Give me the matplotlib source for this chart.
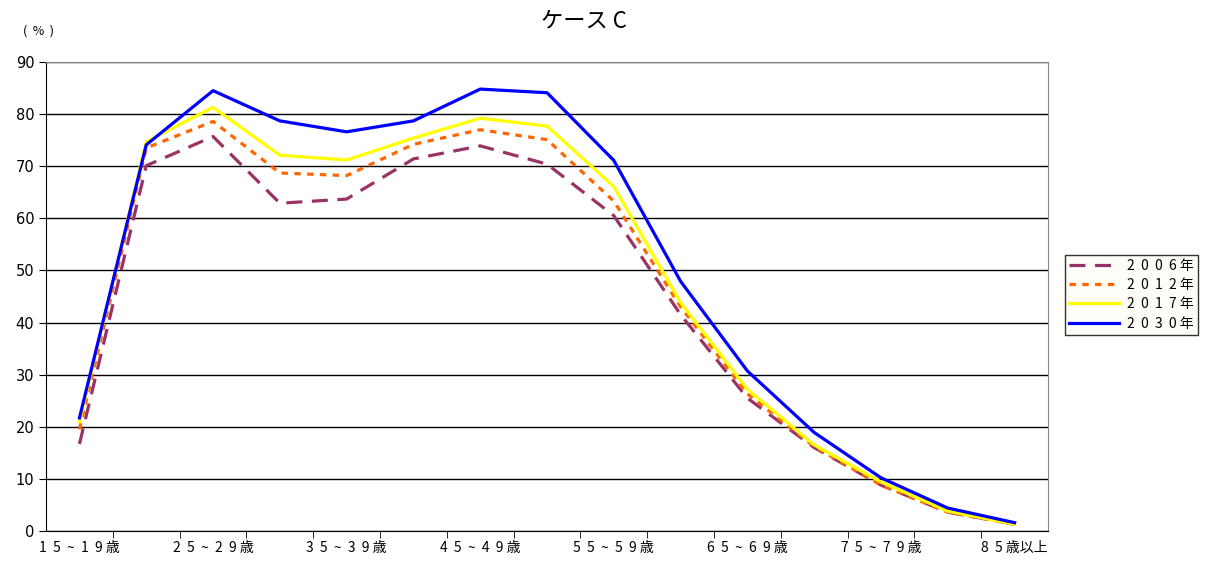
import matplotlib
matplotlib.use("Agg")
import matplotlib.pyplot as plt

plt.rcParams["font.family"] = ["Noto Sans CJK JP", "DejaVu Sans"]

# 年齢階級
ages = ["15～19歳", "20～24歳", "25～29歳", "30～34歳", "35～39歳", "40～44歳",
        "45～49歳", "50～54歳", "55～59歳", "60～64歳", "65～69歳", "70～74歳",
        "75～79歳", "80～84歳", "85歳以上"]
tick_labels = ["1  5  ~  1  9 歳", "2  5  ~  2  9 歳", "3  5  ~  3  9 歳", "4  5  ~  4  9 歳",
               "5  5  ~  5  9 歳", "6  5  ~  6  9 歳", "7  5  ~  7  9 歳", "8  5 歳以上"]
series_labels = ["2  0  0  6 年", "2  0  1  2 年", "2  0  1  7 年", "2  0  3  0 年"]

y2006 = [16.7, 70.1, 75.7, 62.9, 63.7, 71.4, 73.9, 70.4, 60.5, 41.5, 25.5, 16.0, 8.8, 3.6, 1.3]
y2012 = [19.5, 73.5, 78.6, 68.7, 68.2, 74.2, 77.0, 75.1, 63.3, 43.0, 26.3, 16.2, 8.8, 3.6, 1.3]
y2017 = [21.0, 74.7, 81.3, 72.1, 71.2, 75.4, 79.2, 77.7, 66.1, 43.8, 27.2, 16.5, 9.4, 3.8, 1.3]
y2030 = [21.7, 74.1, 84.5, 78.7, 76.6, 78.7, 84.8, 84.1, 71.1, 47.9, 30.7, 18.9, 10.2, 4.4, 1.6]

fig = plt.figure(figsize=(12.12, 5.61), dpi=100)
ax = fig.add_axes([0.038, 0.0535, 0.8267, 0.836])

x = list(range(len(ages)))
ax.plot(x, y2006, color="#993366", lw=2.3, dashes=(5, 3), label=series_labels[0])
ax.plot(x, y2012, color="#FF6600", lw=2.3, dashes=(2, 2), label=series_labels[1])
ax.plot(x, y2017, color="#FFFF00", lw=2.3, label=series_labels[2])
ax.plot(x, y2030, color="#0000FF", lw=2.3, label=series_labels[3])

ax.set_xlim(-0.5, len(ages) - 0.5)
ax.set_ylim(0, 90)
ax.set_yticks(range(0, 91, 10))
ax.yaxis.grid(True, color="black", lw=1)
ax.set_axisbelow(True)
ax.tick_params(axis="y", labelsize=10.5, length=5, direction="out")
for lab in ax.get_yticklabels():
    lab.set_family(["DejaVu Sans"])

ax.set_xticks(x[::2])
ax.set_xticklabels(tick_labels, fontsize=10)
ax.set_xticks([i + 0.5 for i in range(len(ages) - 1)], minor=True)
ax.tick_params(axis="x", which="major", length=0, pad=7)
ax.tick_params(axis="x", which="minor", length=5, direction="out")

for s in ["top", "right"]:
    ax.spines[s].set_color("#888888")
for s in ["left", "bottom"]:
    ax.spines[s].set_color("black")

fig.text(0.482, 0.962, "ケース C", fontsize=16, ha="center", va="center")
fig.text(0.032, 0.945, "(  %  )", fontsize=9, ha="center", va="center")

leg = ax.legend(loc="center left", bbox_to_anchor=(1.01, 0.504), fontsize=10,
                frameon=True, fancybox=False, handlelength=3.6,
                borderpad=0.3, labelspacing=0.38, handletextpad=0.6)
leg.get_frame().set_edgecolor("black")
leg.get_frame().set_facecolor("#FFFDF5")
leg.get_frame().set_linewidth(1)

fig.savefig("out.png", dpi=100)
